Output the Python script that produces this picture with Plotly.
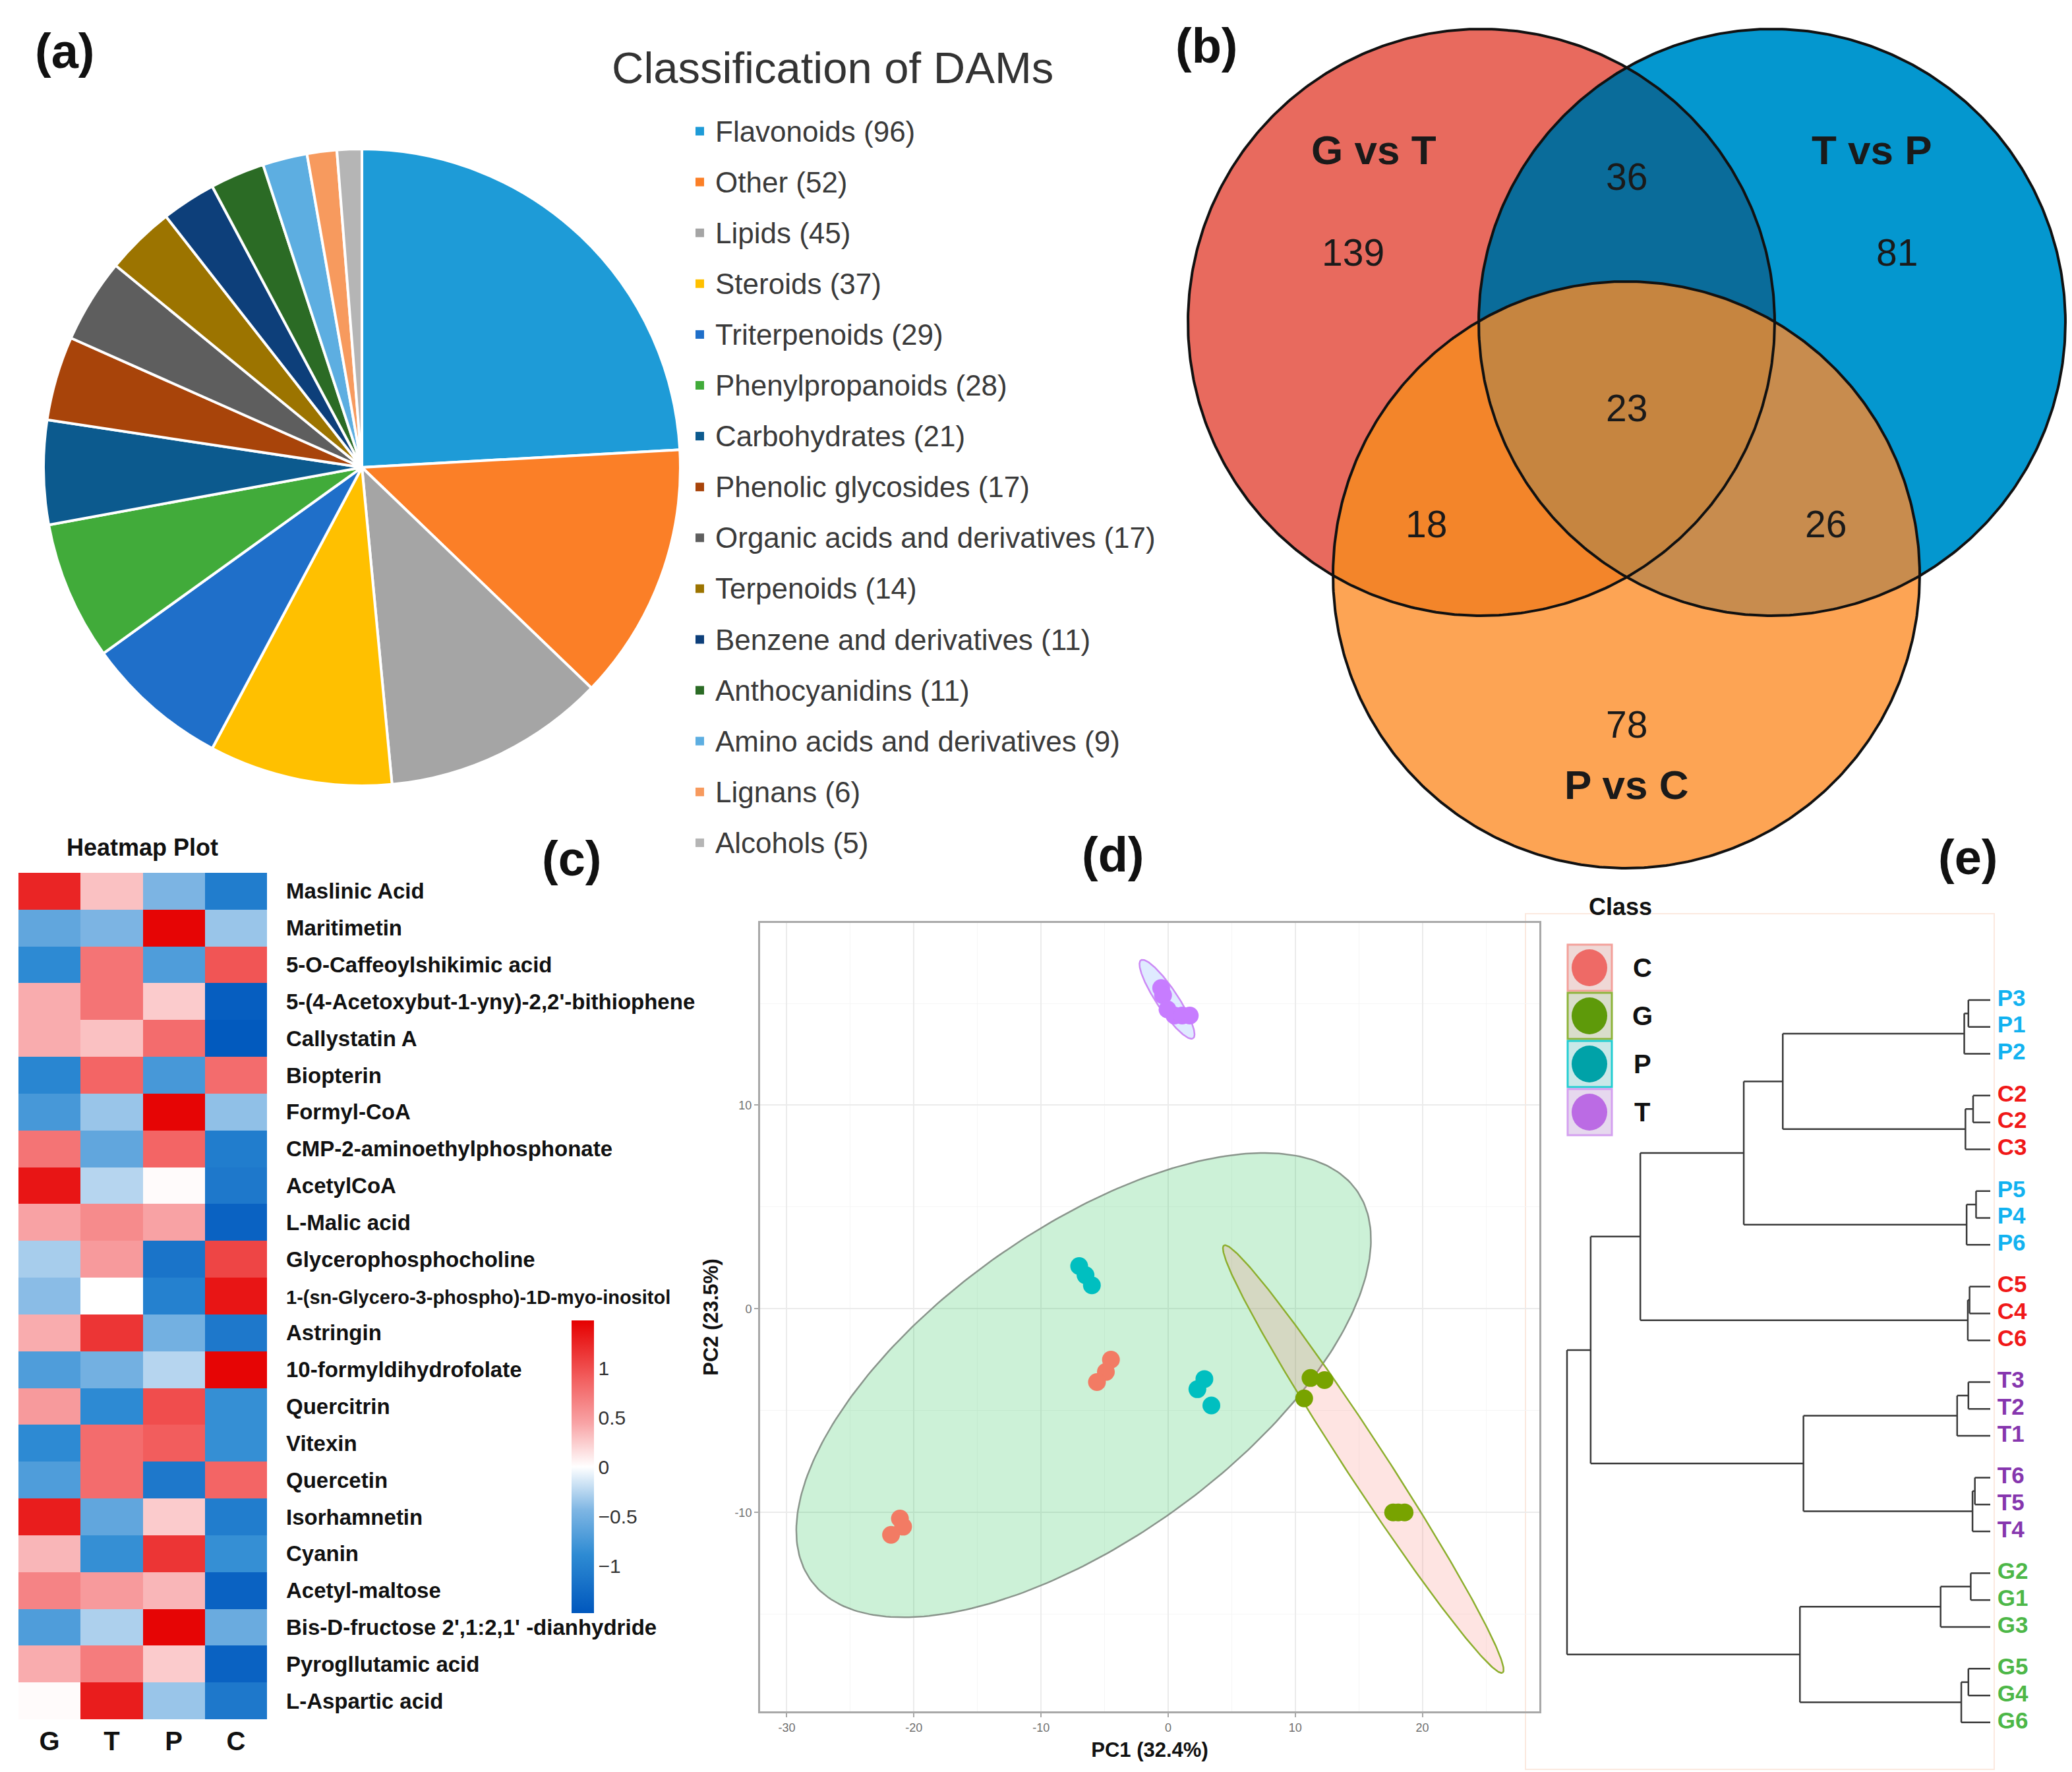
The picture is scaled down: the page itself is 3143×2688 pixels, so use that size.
import numpy as np
import plotly.graph_objects as go

W, H = 3143, 2688
def fx(p): return p / W
def fy(p): return 1 - p / H
FONT = "Liberation Sans, Arial, Helvetica, sans-serif"

# ---------------- (a) pie data ----------------
pie_labels = ["Flavonoids", "Other", "Lipids", "Steroids", "Triterpenoids", "Phenylpropanoids",
              "Carbohydrates", "Phenolic glycosides", "Organic acids and derivatives", "Terpenoids",
              "Benzene and derivatives", "Anthocyanidins", "Amino acids and derivatives", "Lignans", "Alcohols"]
pie_values = [96, 52, 45, 37, 29, 28, 21, 17, 17, 14, 11, 11, 9, 6, 5]
pie_colors = ["#1E9BD7", "#FB7F27", "#A5A5A5", "#FFC000", "#1F6FC9", "#41AB3A", "#0C5A8E", "#A8440A",
              "#5E5E5E", "#9C7400", "#0D3F7A", "#2B6B25", "#5DAEE1", "#F79A5E", "#B5B5B5"]

# ---------------- (b) venn data ----------------
venn_sets = ["G vs T", "T vs P", "P vs C"]
venn_keys = ["100", "010", "001", "110", "101", "011", "111"]
venn_counts = [139, 81, 78, 36, 18, 26, 23]
venn_colors = ["#E86A5E", "#0497CF", "#FDA454", "#0A6C9A", "#F3852A", "#C88C4E", "#C68540"]

# ---------------- (c) heatmap data ----------------
heat_rows = ["Maslinic Acid", "Maritimetin", "5-O-Caffeoylshikimic acid",
             "5-(4-Acetoxybut-1-yny)-2,2'-bithiophene", "Callystatin A", "Biopterin", "Formyl-CoA",
             "CMP-2-aminoethylphosphonate", "AcetylCoA", "L-Malic acid", "Glycerophosphocholine",
             "1-(sn-Glycero-3-phospho)-1D-myo-inositol", "Astringin", "10-formyldihydrofolate",
             "Quercitrin", "Vitexin", "Quercetin", "Isorhamnetin", "Cyanin", "Acetyl-maltose",
             "Bis-D-fructose 2',1:2,1' -dianhydride", "Pyrogllutamic acid", "L-Aspartic acid"]
heat_cols = ["G", "T", "P", "C"]
heat_G = [1.25, -0.6, -0.9, 0.4, 0.4, -0.95, -0.75, 0.75, 1.35, 0.45, -0.3, -0.4, 0.4, -0.7, 0.5,
          -0.9, -0.7, 1.3, 0.35, 0.65, -0.7, 0.4, 0.02]
heat_T = [0.3, -0.45, 0.75, 0.75, 0.3, 0.85, -0.35, -0.6, -0.25, 0.6, 0.5, 0.0, 1.15, -0.5, -0.9,
          0.8, 0.8, -0.6, -0.85, 0.5, -0.28, 0.7, 1.3]
heat_P = [-0.45, 1.45, -0.7, 0.25, 0.8, -0.75, 1.45, 0.85, 0.02, 0.45, -1.15, -1.0, -0.5, -0.25, 1.0,
          0.9, -1.1, 0.25, 1.15, 0.35, 1.45, 0.25, -0.35]
heat_C = [-1.05, -0.35, 0.95, -1.4, -1.45, 0.8, -0.38, -1.05, -1.1, -1.35, 1.05, 1.35, -1.1, 1.45,
          -0.85, -0.85, 0.85, -1.05, -0.85, -1.35, -0.55, -1.35, -1.1]
cbar_ticks = [-1, -0.5, 0, 0.5, 1]

# ---------------- (d) PCA data ----------------
pca_class = ["C", "G", "P", "T"]
pc1_C = [-4.5, -4.9, -5.6, -21.1, -20.85, -21.8]
pc2_C = [-2.5, -3.1, -3.6, -10.3, -10.7, -11.1]
pc1_G = [11.2, 12.3, 10.7, 17.7, 18.1, 18.6]
pc2_G = [-3.4, -3.5, -4.4, -10.0, -10.0, -10.0]
pc1_P = [-7.0, -6.5, -6.0, 2.85, 2.3, 3.4]
pc2_P = [2.1, 1.65, 1.15, -3.45, -3.95, -4.75]
pc1_T = [-0.55, -0.4, -0.05, 0.5, 1.1, 1.7]
pc2_T = [15.75, 15.4, 14.7, 14.4, 14.4, 14.4]
pca_colors = ["#F27B64", "#78A300", "#00BFC0", "#C77CFF"]
# confidence ellipses: centre and two conjugate half-axis vectors (data units)
ell_cx = [-6.65, 15.35, -0.09]
ell_cy = [-3.75, -7.38, 15.2]
ell_ux = [21.46, 10.96, 2.05]
ell_uy = [9.58, -10.49, -1.92]
ell_vx = [-7.10, 1.33, 0.70]
ell_vy = [6.18, 0.54, 0.29]
ell_fill = ["rgba(0,186,56,0.2)", "rgba(248,118,109,0.2)", "rgba(97,156,255,0.2)"]
ell_line = ["#8A958C", "#8DAF2E", "#CC8AF5"]
pc1_ticks = [-30, -20, -10, 0, 10, 20]
pc2_ticks = [-10, 0, 10]

# ---------------- (e) dendrogram data ----------------
dendro_leaves = ["P3", "P1", "P2", "C2", "C2", "C3", "P5", "P4", "P6", "C5", "C4", "C6",
                 "T3", "T2", "T1", "T6", "T5", "T4", "G2", "G1", "G3", "G5", "G4", "G6"]
merge_left = [0, 24, 3, 26, 6, 28, 9, 30, 12, 32, 15, 34, 18, 36, 21, 38, 25, 40, 41, 33, 37, 42, 45]
merge_right = [1, 2, 4, 5, 7, 8, 10, 11, 13, 14, 16, 17, 19, 20, 22, 23, 27, 29, 31, 35, 39, 43, 44]
merge_height = [0.37, 0.44, 0.29, 0.42, 0.24, 0.40, 0.35, 0.38, 0.37, 0.56, 0.26, 0.30, 0.33, 0.84,
                0.37, 0.49, 3.51, 4.17, 5.92, 3.16, 3.22, 6.76, 7.16]
leaf_colors = {"P": "#12B2F0", "C": "#F01818", "T": "#8636AE", "G": "#4DB748"}
key_fill = ["#EFD8D6", "#D9DDCB", "#C9E8E8", "#E6D8EE"]
key_border = ["#F3A09A", "#8DB33A", "#22CDD2", "#D4A0F0"]
key_dot = ["#EE6A66", "#5E9A0A", "#00A2A8", "#BB6BE4"]

fig = go.Figure()
annotations = []
shapes = []

def paper_text(text, x, y, size, color="#111111", xanchor="center"):
    annotations.append(dict(text=text, x=fx(x), y=fy(y), xref="paper", yref="paper",
                            xanchor=xanchor, yanchor="middle", showarrow=False,
                            font=dict(family=FONT, size=size, color=color)))

# ======== (a) Pie ========
PIE_CX, PIE_CY, PIE_R = 541, 701, 483
fig.add_trace(go.Pie(labels=pie_labels, values=pie_values, sort=False, direction="clockwise", rotation=0,
                     marker=dict(colors=pie_colors, line=dict(color="white", width=4)),
                     textinfo="none", showlegend=False,
                     domain=dict(x=[fx(PIE_CX - PIE_R), fx(PIE_CX + PIE_R)],
                                 y=[fy(PIE_CY + PIE_R), fy(PIE_CY - PIE_R)])))

LEG_Y0, LEG_DY = 191, 77.1
for i, (lab, val, col) in enumerate(zip(pie_labels, pie_values, pie_colors)):
    yc = LEG_Y0 + LEG_DY * i
    shapes.append(dict(type="rect", xref="paper", yref="paper", x0=fx(1047), x1=fx(1060),
                       y0=fy(yc + 6.5), y1=fy(yc - 6.5), fillcolor=col, line=dict(width=0)))
    paper_text(f"{lab} ({val})", 1075, yc, 44, "#3A3A3A", "left")
paper_text("Classification of DAMs", 1255, 95, 67, "#333333")

# ======== (b) Venn ========
R = 445.0
centers = [(2239.0, 481.0), (2680.0, 481.0), (2459.0, 864.0)]

def inside(p, c):
    return np.hypot(p[0] - c[0], p[1] - c[1]) < R - 1e-6

def inter(i, j):
    c1, c2 = centers[i], centers[j]
    d = np.hypot(c2[0] - c1[0], c2[1] - c1[1])
    a = d / 2
    h = np.sqrt(R * R - a * a)
    mx, my = c1[0] + (c2[0] - c1[0]) * a / d, c1[1] + (c2[1] - c1[1]) * a / d
    ox, oy = -(c2[1] - c1[1]) * h / d, (c2[0] - c1[0]) * h / d
    p1, p2 = (mx + ox, my + oy), (mx - ox, my - oy)
    k = 3 - i - j
    return (p2, p1) if inside(p1, centers[k]) else (p1, p2)   # (outside third, inside third)

AB_out, AB_in = inter(0, 1)
AC_out, AC_in = inter(0, 2)
BC_out, BC_in = inter(1, 2)

def arc(ci, p, q, key, n=240):
    c = centers[ci]
    a0 = np.arctan2(p[1] - c[1], p[0] - c[0])
    a1 = np.arctan2(q[1] - c[1], q[0] - c[0])
    d = (a1 - a0) % (2 * np.pi)
    for delta in (d, d - 2 * np.pi):
        mid = a0 + delta / 2
        m = (c[0] + R * np.cos(mid), c[1] + R * np.sin(mid))
        if all(inside(m, centers[j]) == (key[j] == "1") for j in range(3) if j != ci):
            t = np.linspace(a0, a0 + delta, n)
            return list(c[0] + R * np.cos(t)), list(c[1] + R * np.sin(t))
    t = np.linspace(a0, a0 + d, n)
    return list(c[0] + R * np.cos(t)), list(c[1] + R * np.sin(t))

region_arcs = {
    "100": [(0, AB_out, AC_out), (2, AC_out, BC_in), (1, BC_in, AB_out)],
    "010": [(1, AB_out, BC_out), (2, BC_out, AC_in), (0, AC_in, AB_out)],
    "001": [(2, AC_out, BC_out), (1, BC_out, AB_in), (0, AB_in, AC_out)],
    "110": [(0, AB_out, AC_in), (2, AC_in, BC_in), (1, BC_in, AB_out)],
    "101": [(2, AC_out, BC_in), (1, BC_in, AB_in), (0, AB_in, AC_out)],
    "011": [(2, BC_out, AC_in), (0, AC_in, AB_in), (1, AB_in, BC_out)],
    "111": [(2, BC_in, AC_in), (0, AC_in, AB_in), (1, AB_in, BC_in)],
}
for key, col in zip(venn_keys, venn_colors):
    xs, ys = [], []
    for ci, p, q in region_arcs[key]:
        ax_, ay_ = arc(ci, p, q, key)
        xs += ax_; ys += ay_
    fig.add_trace(go.Scatter(x=xs, y=ys, mode="lines", fill="toself", fillcolor=col,
                             line=dict(width=0, color=col), hoverinfo="skip", showlegend=False,
                             xaxis="x", yaxis="y"))
tt = np.linspace(0, 2 * np.pi, 500)
for c in centers:
    fig.add_trace(go.Scatter(x=c[0] + R * np.cos(tt), y=c[1] + R * np.sin(tt), mode="lines",
                             line=dict(color="#111111", width=4), hoverinfo="skip", showlegend=False,
                             xaxis="x", yaxis="y"))
venn_num_pos = {"100": (2044, 375), "010": (2869, 375), "001": (2459, 1091), "110": (2459, 260),
                "101": (2155, 787), "011": (2761, 787), "111": (2459, 611)}
for key, cnt in zip(venn_keys, venn_counts):
    px_, py_ = venn_num_pos[key]
    annotations.append(dict(text=str(cnt), x=px_, y=py_, xref="x", yref="y", showarrow=False,
                            xanchor="center", yanchor="middle",
                            font=dict(family=FONT, size=57, color="#1A1A1A")))
venn_lab_pos = [(2076, 219), (2831, 219), (2459, 1182)]
for name, (px_, py_) in zip(venn_sets, venn_lab_pos):
    annotations.append(dict(text=f"<b>{name}</b>", x=px_, y=py_, xref="x", yref="y", showarrow=False,
                            xanchor="center", yanchor="middle",
                            font=dict(family=FONT, size=62, color="#1A1A1A")))

# ======== (c) Heatmap ========
z = [[g, t, p, c] for g, t, p, c in zip(heat_G, heat_T, heat_P, heat_C)]
colorscale = [[0, "#0057BD"], [0.2, "#2E8BD3"], [0.35, "#7DB5E3"], [0.5, "#FFFFFF"],
              [0.65, "#F8A3A5"], [0.8, "#F25F5F"], [1, "#E50000"]]
fig.add_trace(go.Heatmap(z=z, x=heat_cols, y=heat_rows, colorscale=colorscale, zmin=-1.48, zmax=1.48,
                         xaxis="x2", yaxis="y2",
                         colorbar=dict(x=fx(859), xanchor="left", y=fy(2217), yanchor="middle",
                                       len=444, lenmode="pixels", thickness=34, thicknessmode="pixels",
                                       xpad=0, ypad=0, outlinewidth=0, tickvals=cbar_ticks, ticks="",
                                       tickfont=dict(family=FONT, size=30, color="#333333"))))
row_ticktext = [f'<span style="font-size:29px">{r}</span>' if len(r) > 38 and r.startswith("1-(")
                else r for r in heat_rows]
paper_text("<b>Heatmap Plot</b>", 208, 1277, 36)

# ======== (d) PCA ========
tt2 = np.linspace(0, 2 * np.pi, 300)
for cx, cy, ux, uy, vx, vy, fc, lc in zip(ell_cx, ell_cy, ell_ux, ell_uy, ell_vx, ell_vy, ell_fill, ell_line):
    fig.add_trace(go.Scatter(x=cx + ux * np.cos(tt2) + vx * np.sin(tt2),
                             y=cy + uy * np.cos(tt2) + vy * np.sin(tt2),
                             mode="lines", fill="toself", fillcolor=fc, line=dict(color=lc, width=2.5),
                             hoverinfo="skip", showlegend=False, xaxis="x3", yaxis="y3"))
for cls, xs, ys, col in zip(pca_class, [pc1_C, pc1_G, pc1_P, pc1_T], [pc2_C, pc2_G, pc2_P, pc2_T], pca_colors):
    fig.add_trace(go.Scatter(x=xs, y=ys, mode="markers", name=cls,
                             marker=dict(size=27, color=col, line=dict(width=0)),
                             showlegend=False, xaxis="x3", yaxis="y3"))

# legend "Class"
paper_text("<b>Class</b>", 2450, 1367, 36)
for i, cls in enumerate(pca_class):
    yc = 1460 + 73 * i
    shapes.append(dict(type="rect", xref="paper", yref="paper", x0=fx(2370), x1=fx(2437),
                       y0=fy(yc + 35), y1=fy(yc - 35), fillcolor=key_fill[i],
                       line=dict(color=key_border[i], width=3)))
    shapes.append(dict(type="circle", xref="paper", yref="paper", xsizemode="pixel", ysizemode="pixel",
                       xanchor=fx(2403), yanchor=fy(yc), x0=-27, x1=27, y0=-28, y1=28,
                       fillcolor=key_dot[i], line=dict(width=0)))
    paper_text(f"<b>{cls}</b>", 2483, yc, 40)

# ======== (e) Dendrogram ========
LEAF_GAP = 0.555
n = len(dendro_leaves)
leaf_y = [i + LEAF_GAP * (i // 3) for i in range(n)]
node_x = [0.0] * n
node_y = list(leaf_y)
dx, dy = [], []
for l, r, h in zip(merge_left, merge_right, merge_height):
    for c in (l, r):
        dx += [node_x[c], h, None]
        dy += [node_y[c], node_y[c], None]
    dx += [h, h, None]
    dy += [node_y[l], node_y[r], None]
    node_x.append(h)
    node_y.append((node_y[l] + node_y[r]) / 2)
fig.add_trace(go.Scatter(x=dx, y=dy, mode="lines", line=dict(color="#3A3A3A", width=2.5),
                         hoverinfo="skip", showlegend=False, xaxis="x4", yaxis="y4"))
fig.add_trace(go.Scatter(x=[-0.12] * n, y=leaf_y, mode="text", text=dendro_leaves,
                         textposition="middle right", cliponaxis=False,
                         textfont=dict(family=FONT, size=35, weight="bold",
                                       color=[leaf_colors[s[0]] for s in dendro_leaves]),
                         hoverinfo="skip", showlegend=False, xaxis="x4", yaxis="y4"))
shapes.append(dict(type="rect", xref="paper", yref="paper", x0=fx(2306), x1=fx(3017), y0=fy(2676),
                   y1=fy(1378), line=dict(color="#FBE9DF", width=2), layer="below"))

# panel letters
for lab, (px_, py_) in zip(["(a)", "(b)", "(c)", "(d)", "(e)"],
                           [(90, 70), (1822, 62), (859, 1295), (1680, 1288), (2977, 1292)]):
    paper_text(f"<b>{lab}</b>", px_, py_, 74)

DEND_PX_PER_UNIT = (3011 - 2369) / 7.16
hidden = dict(visible=False, showgrid=False, zeroline=False)
fig.update_layout(
    width=W, height=H, autosize=False, margin=dict(l=0, r=0, t=0, b=0),
    paper_bgcolor="white", plot_bgcolor="white", showlegend=False,
    font=dict(family=FONT),
    xaxis=dict(domain=[fx(1760), 1.0], range=[1760, 3143], anchor="y", **hidden),
    yaxis=dict(domain=[fy(1383), 1.0], range=[1383, 0], anchor="x", **hidden),
    xaxis2=dict(domain=[fx(20), fx(397)], anchor="y2", showgrid=False, zeroline=False, ticks="",
                ticklabelstandoff=6,
                tickfont=dict(family=FONT, size=40, weight="bold", color="#111111")),
    yaxis2=dict(domain=[fy(2600), fy(1316)], anchor="x2", side="right", autorange="reversed",
                showgrid=False, zeroline=False, ticks="", ticklabelstandoff=28,
                tickmode="array", tickvals=heat_rows, ticktext=row_ticktext,
                tickfont=dict(family=FONT, size=33, weight="bold", color="#111111")),
    xaxis3=dict(domain=[fx(1145), fx(2327)], anchor="y3", range=[-32.1, 29.2],
                tickmode="array", tickvals=pc1_ticks, ticktext=[str(v) for v in pc1_ticks],
                showgrid=True, gridcolor="#EBEBEB", gridwidth=2, zeroline=False,
                minor=dict(tickmode="array", tickvals=[-25, -15, -5, 5, 15, 25], showgrid=True,
                           gridcolor="#F5F5F5", gridwidth=1, ticks=""),
                showline=True, mirror=True, linecolor="#A8A8A8", linewidth=3,
                ticks="outside", ticklen=6, tickwidth=2, tickcolor="#A8A8A8",
                tickfont=dict(family=FONT, size=18, color="#707070"),
                title=dict(text="<b>PC1 (32.4%)</b>", standoff=14,
                           font=dict(family=FONT, size=31, color="#111111"))),
    yaxis3=dict(domain=[fy(2588), fy(1392)], anchor="x3", range=[-19.77, 18.95],
                tickmode="array", tickvals=pc2_ticks, ticktext=[str(v) for v in pc2_ticks],
                showgrid=True, gridcolor="#EBEBEB", gridwidth=2, zeroline=False,
                minor=dict(tickmode="array", tickvals=[-15, -5, 5, 15], showgrid=True,
                           gridcolor="#F5F5F5", gridwidth=1, ticks=""),
                showline=True, mirror=True, linecolor="#A8A8A8", linewidth=3,
                ticks="outside", ticklen=6, tickwidth=2, tickcolor="#A8A8A8",
                tickfont=dict(family=FONT, size=18, color="#707070"),
                title=dict(text="<b>PC2 (23.5%)</b>", standoff=16,
                           font=dict(family=FONT, size=31, color="#111111"))),
    xaxis4=dict(domain=[fx(2360), fx(3110)], anchor="y4",
                range=[(3011 - 2360) / DEND_PX_PER_UNIT, -(3110 - 3011) / DEND_PX_PER_UNIT], **hidden),
    yaxis4=dict(domain=[fy(2625), fy(1489)], anchor="x4", range=[27.38, -0.49], **hidden),
    annotations=annotations, shapes=shapes,
)

fig.write_html("out.html")
